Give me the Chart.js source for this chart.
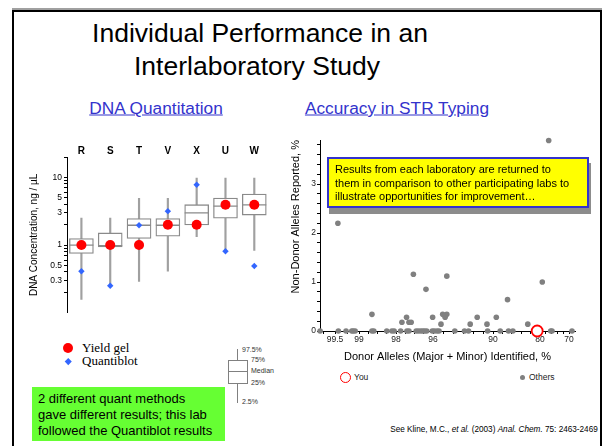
<!DOCTYPE html>
<html>
<head>
<meta charset="utf-8">
<script src="https://cdn.jsdelivr.net/npm/chart.js@4.4.1/dist/chart.umd.min.js"></script>
<style>
    body { margin: 0; width: 602px; height: 446px; position: relative; overflow: hidden; background: #fff;
           font-family: "Liberation Sans", Arial, sans-serif; color: #000; }
    .abs { position: absolute; white-space: nowrap; }
    .mid { transform: translate(-50%, -50%); }
    .frame { position: absolute; left: 12px; top: 10px; width: 590px; height: 500px; box-sizing: border-box;
             border: 2.5px solid #000; box-shadow: 0 -2px 0 #a0a0a0; }
    .title { font-size: 26.5px; }
    .sub { font-size: 17.3px; color: #3333cc; text-decoration: underline; }
    canvas { position: absolute; }
    .note { position: absolute; left: 327px; top: 157px; width: 262px; height: 51px; box-sizing: border-box;
            background: #ffff00; border: 2px solid #3333cc; box-shadow: 2px 6px 0 #8c8c8c;
            font-size: 11px; line-height: 13.5px; padding: 4px 0 0 6px; white-space: nowrap; }
    .green { position: absolute; left: 32px; top: 387px; width: 193px; height: 54px; box-sizing: border-box;
             background: #66ff33; font-size: 13px; line-height: 16px; padding: 4px 0 0 6px; white-space: nowrap; }
    .serif { font-family: "Liberation Serif", "Times New Roman", serif; font-size: 13px; }
    .tiny { font-size: 7px; color: #333; }
    .small { font-size: 8.5px; color: #222; }
</style>
</head>
<body>
<div class="frame"></div>

<div class="abs mid title" style="left:260px; top:33px">Individual Performance in an</div>
<div class="abs mid title" style="left:257px; top:66px">Interlaboratory Study</div>
<div class="abs mid sub" style="left:156px; top:108px">DNA Quantitation</div>
<div class="abs mid sub" style="left:397px; top:108px">Accuracy in STR Typing</div>

<canvas id="quantChart" width="262" height="186" style="left:20px; top:140px"></canvas>
<canvas id="strChart" width="300" height="240" style="left:283px; top:130px"></canvas>

<!-- quantitation legend -->
<div class="abs" style="left:63px; top:343px; width:10px; height:10px; border-radius:50%; background:#ff0000"></div>
<div class="abs serif" style="left:82px; top:340px">Yield gel</div>
<div class="abs" style="left:65.5px; top:358.5px; width:4.5px; height:4.5px; background:#3366ff; transform:rotate(45deg)"></div>
<div class="abs serif" style="left:82px; top:353px">Quantiblot</div>

<!-- box plot key -->
<div class="abs" style="left:237px; top:349px; width:1px; height:54px; background:#808080"></div>
<div class="abs" style="left:228px; top:360px; width:20px; height:24px; box-sizing:border-box; border:1px solid #808080; background:#fff"></div>
<div class="abs" style="left:228px; top:371px; width:20px; height:1px; background:#808080"></div>
<div class="abs tiny" style="left:242px; top:346px">97.5%</div>
<div class="abs tiny" style="left:251px; top:356px">75%</div>
<div class="abs tiny" style="left:251px; top:367px">Median</div>
<div class="abs tiny" style="left:251px; top:379px">25%</div>
<div class="abs tiny" style="left:242px; top:398px">2.5%</div>

<div class="green">2 different quant methods<br>gave different results; this lab<br>followed the Quantiblot results</div>

<div class="note">Results from each laboratory are returned to<br>them in comparison to other participating labs to<br>illustrate opportunities for improvement…</div>

<!-- STR legend -->
<div class="abs" style="left:339.5px; top:371.5px; width:11px; height:11px; box-sizing:border-box; border-radius:50%; border:1.8px solid #ff0000"></div>
<div class="abs small" style="left:354px; top:372px">You</div>
<div class="abs" style="left:519.5px; top:374.5px; width:5.5px; height:5.5px; border-radius:50%; background:#808080"></div>
<div class="abs small" style="left:529px; top:372px">Others</div>

<div class="abs mid" style="left:494px; top:429px; font-size:8.2px">See Kline, M.C., <i>et al.</i> (2003) <i>Anal. Chem.</i> 75: 2463-2469</div>

<script>
Chart.defaults.font.family = "'Liberation Sans', Arial, sans-serif"
Chart.defaults.color = "#000"

// ---- DNA quantitation: box plots per lab ----
const labs = ["R", "S", "T", "V", "X", "U", "W"]
const whiskerLow = [0.157, 0.25, 0.29, 0.41, 1.33, 0.83, 0.83]
const whiskerHigh = [2.5, 2.5, 4.9, 4.9, 9.8, 9.8, 9.8]
const boxLow = [0.75, 0.94, 1.25, 1.35, 1.98, 2.5, 2.77]
const boxHigh = [1.25, 1.51, 2.46, 2.46, 3.95, 4.93, 5.66]
const medians = [1.0, 0.98, 1.96, 1.96, 2.98, 3.76, 3.92]
const yieldGel = [1.0, 1.0, 1.0, 2.0, 2.0, 3.95, 3.95]
const quantiblot = [0.41, 0.25, 1.96, 3.17, 7.77, 0.81, 0.49]
const concTickLabels = [0.3, 0.5, 1, 3, 5, 10]
const concTicks = [0.2, 0.3, 0.4, 0.5, 0.6, 0.7, 0.8, 0.9, 1, 2, 3, 4, 5, 6, 7, 8, 9, 10, 20]

// ---- STR typing accuracy: one point per lab ----
const strTickPct = [99.5, 99, 98, 96, 90, 80, 70]
const strMinorPct = [99.75, 99.25, 98.75, 98.5, 98.25, 97.5, 97, 96.5, 95, 94, 93, 92, 91, 88, 86, 84, 82, 78, 76, 74, 72]
const othersPct = [99.81, 99.43, 99.27, 99.15, 99.12, 99.08, 98.65, 98.6, 98.25, 98.11, 98.05, 97.75,
    97.41, 97.3, 96.91, 96.79, 96.66, 96.55, 96.45, 96.34, 96.04, 95.87, 95.6, 95.4, 93.82, 92.85,
    92.45, 90.54, 88.46, 86.7, 85.77, 76.31, 75.86, 68.97,
    99.44, 98.65, 97.68, 97.43, 97.3, 97.18, 97.06, 96.38, 96.02, 95.2, 95.03, 94.79, 94.62, 94.62,
    92.28, 91.58, 90.6, 89.3, 86.91, 82.6, 79.21, 77.0]
const othersNonDonor = [0, 0, 0, 0, 0, 0, 0, 0, 0, 0, 0, 0,
    0, 0, 0, 0, 0, 0, 0, 0, 0, 0, 0, 0, 0, 0,
    0, 0, 0, 0, 0, 0, 0, 0,
    2.2, 0.34, 0.18, 0.28, 0.18, 0.18, 1.16, 0.85, 0.28, 0.14, 0.34, 0.28, 0.34, 1.12,
    0.14, 0.28, 0.14, 0.28, 0.64, 0.14, 1.0, 3.89]
const youPct = [80.6]
const youNonDonor = [0]

// the identified-% axis of the original is stretched unevenly; these are its breakpoints
const strTickSpot = [15, 39, 76, 113, 173, 220, 249]

function stretch(p) {
    let i = 0
    while (i < strTickPct.length - 2 && p < strTickPct[i + 1]) i++
    const p0 = strTickPct[i], p1 = strTickPct[i + 1]
    const s0 = strTickSpot[i], s1 = strTickSpot[i + 1]
    return s0 + (p - p0) * (s1 - s0) / (p1 - p0)
}

const boxGray = "#8a8a8a"

new Chart(document.getElementById("quantChart"), {
    type: "bar",
    data: {
        labels: labs,
        datasets: [
            {
                label: "2.5-97.5%",
                data: labs.map((l, i) => [whiskerLow[i], whiskerHigh[i]]),
                backgroundColor: "#a0a0a0",
                barThickness: 1.5,
                grouped: false,
                order: 5
            },
            {
                label: "25-75%",
                data: labs.map((l, i) => [boxLow[i], boxHigh[i]]),
                backgroundColor: "#ffffff",
                borderColor: boxGray,
                borderWidth: 1.3,
                borderSkipped: false,
                barThickness: 24,
                grouped: false,
                order: 4
            },
            {
                type: "line",
                label: "Median",
                data: medians,
                showLine: false,
                pointStyle: "line",
                pointRadius: 12,
                borderColor: boxGray,
                borderWidth: 1.3,
                order: 3
            },
            {
                type: "line",
                label: "Quantiblot",
                data: quantiblot,
                showLine: false,
                pointStyle: "rectRot",
                pointRadius: 3.2,
                backgroundColor: "#3366ff",
                borderColor: "#3366ff",
                borderWidth: 0,
                order: 2
            },
            {
                type: "line",
                label: "Yield gel",
                data: yieldGel,
                showLine: false,
                pointStyle: "circle",
                pointRadius: 5,
                backgroundColor: "#ff0000",
                borderColor: "#ff0000",
                borderWidth: 0,
                order: 1
            }
        ]
    },
    options: {
        responsive: false,
        animation: false,
        events: [],
        layout: { padding: { top: 0, right: 0, bottom: 1, left: 0 } },
        plugins: { legend: { display: false }, tooltip: { enabled: false } },
        scales: {
            x: {
                position: "top",
                grid: { display: false, drawTicks: false },
                border: { display: false },
                ticks: { font: { size: 10, weight: "bold" }, padding: 0 },
                afterFit: (scale) => { scale.height = 17 }
            },
            y: {
                type: "logarithmic",
                min: 0.1,
                max: 20,
                border: { color: "#000", width: 1 },
                grid: { drawOnChartArea: false, color: "#000", tickLength: 3 },
                ticks: {
                    font: { size: 8.5 },
                    padding: 2,
                    autoSkip: false,
                    callback: (v) => concTickLabels.includes(v) ? String(v) : ""
                },
                afterBuildTicks: (scale) => { scale.ticks = concTicks.map(v => ({ value: v })) },
                title: { display: true, text: "DNA Concentration, ng / µL", font: { size: 10 }, padding: { top: 8, bottom: 0 } },
                afterFit: (scale) => { scale.width = 47 }
            }
        }
    }
})

const strLabelAt = {}
strTickPct.forEach(p => { strLabelAt[stretch(p).toFixed(2)] = String(p) })

new Chart(document.getElementById("strChart"), {
    type: "scatter",
    data: {
        datasets: [
            {
                label: "You",
                data: youPct.map((p, i) => ({ x: stretch(p), y: youNonDonor[i] })),
                pointRadius: 5.5,
                borderWidth: 1.8,
                borderColor: "#ff0000",
                backgroundColor: "#ffffff",
                order: 1
            },
            {
                label: "Others",
                data: othersPct.map((p, i) => ({ x: stretch(p), y: othersNonDonor[i] })),
                pointRadius: 2.8,
                borderWidth: 0,
                backgroundColor: "#808080",
                order: 2
            }
        ]
    },
    options: {
        responsive: false,
        animation: false,
        events: [],
        clip: false,
        layout: { padding: { top: 10, right: 8, bottom: 0, left: 0 } },
        plugins: { legend: { display: false }, tooltip: { enabled: false } },
        scales: {
            x: {
                type: "linear",
                min: 0,
                max: 255,
                border: { color: "#000", width: 1 },
                grid: { drawOnChartArea: false, color: "#000", tickLength: 3 },
                ticks: {
                    font: { size: 8.5 },
                    color: "#222",
                    padding: 1,
                    autoSkip: false,
                    maxRotation: 0,
                    callback: (v) => strLabelAt[Number(v).toFixed(2)] || ""
                },
                afterBuildTicks: (scale) => {
                    scale.ticks = strTickPct.concat(strMinorPct).map(p => ({ value: stretch(p) })).sort((a, b) => a.value - b.value)
                },
                title: { display: true, text: "Donor Alleles (Major + Minor) Identified, %", font: { size: 11 }, padding: { top: 2, bottom: 6 } },
                afterFit: (scale) => { scale.height = 39 }
            },
            y: {
                min: 0,
                max: 3.9,
                border: { color: "#000", width: 1 },
                grid: { drawOnChartArea: false, color: "#000", tickLength: 3 },
                ticks: {
                    font: { size: 8.5 },
                    color: "#222",
                    padding: 1,
                    autoSkip: false,
                    callback: (v) => Number.isInteger(Math.round(v * 1000) / 1000) ? String(Math.round(v)) : ""
                },
                afterBuildTicks: (scale) => {
                    const t = []
                    for (let k = 0; k <= 19; k++) t.push({ value: k / 5 })
                    scale.ticks = t
                },
                title: { display: true, align: "end", text: "Non-Donor Alleles Reported, %", font: { size: 11 }, padding: { top: 6, bottom: 0 } },
                afterFit: (scale) => { scale.width = 37 }
            }
        }
    }
})
</script>
</body>
</html>
